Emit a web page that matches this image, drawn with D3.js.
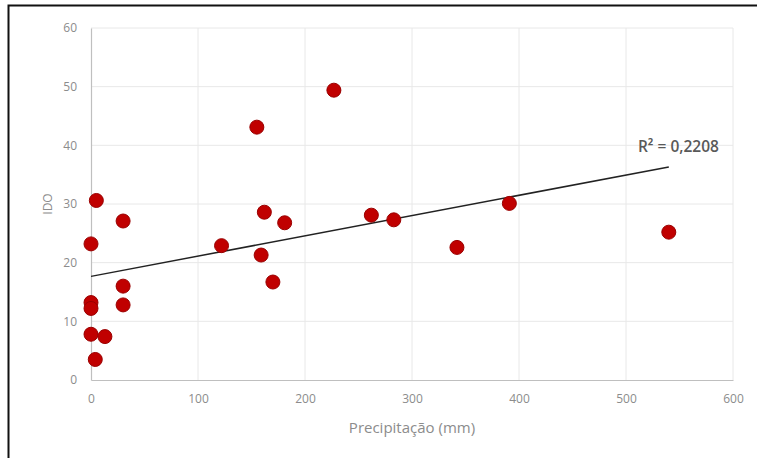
<!DOCTYPE html>
<html>
<head>
<meta charset="utf-8">
<script src="https://cdn.jsdelivr.net/npm/d3@7"></script>
<style>
  body { margin: 0; background: #fff; overflow: hidden; }
  text { font-family: "Open Sans", "Liberation Sans", sans-serif; }
</style>
</head>
<body>
<svg id="chart"></svg>
<script>
const width = 757;
const height = 458;
const margin = { top: 28, right: 24, bottom: 78, left: 91 };

// Precipitation (mm) and IDO
const precip = [0, 5, 30, 0, 0, 30, 30, 0, 13, 4, 122, 155, 159, 162, 170, 181, 227, 262, 283, 342, 391, 540];
const ido = [23.2, 30.6, 27.1, 13.2, 12.2, 16.0, 12.8, 7.8, 7.4, 3.5, 22.9, 43.1, 21.3, 28.6, 16.7, 26.8, 49.4, 28.1, 27.3, 22.6, 30.1, 25.2];
const xTicks = [0, 100, 200, 300, 400, 500, 600];
const yTicks = [0, 10, 20, 30, 40, 50, 60];
const r2Label = "R² = 0,2208";

const points = precip.map((p, i) => ({ x: p, y: ido[i] }));

const svg = d3.select("#chart").attr("width", width).attr("height", height);

// outer frame (left and top edges visible in the picture)
svg.append("rect")
    .attr("x", 8.5)
    .attr("y", 5.5)
    .attr("width", 760)
    .attr("height", 470)
    .attr("fill", "none")
    .attr("stroke", "#111")
    .attr("stroke-width", 2);

const x = d3.scaleLinear().domain([0, 600]).range([margin.left, width - margin.right]);
const y = d3.scaleLinear().domain([0, 60]).range([height - margin.bottom, margin.top]);

// gridlines
svg.append("g")
    .selectAll("line")
    .data(yTicks.filter(d => d > 0))
    .enter().append("line")
    .attr("x1", x(0))
    .attr("x2", x(600))
    .attr("y1", d => y(d))
    .attr("y2", d => y(d))
    .attr("stroke", "#e8e8e8");

svg.append("g")
    .selectAll("line")
    .data(xTicks.filter(d => d > 0))
    .enter().append("line")
    .attr("x1", d => x(d))
    .attr("x2", d => x(d))
    .attr("y1", y(0))
    .attr("y2", y(60))
    .attr("stroke", "#e8e8e8");

// axes
const xAxis = svg.append("g")
    .attr("transform", `translate(0,${y(0)})`)
    .call(d3.axisBottom(x).tickValues(xTicks).tickSize(0).tickPadding(14));
const yAxis = svg.append("g")
    .attr("transform", `translate(${x(0)},0)`)
    .call(d3.axisLeft(y).tickValues(yTicks).tickSize(0).tickPadding(14));

[xAxis, yAxis].forEach(a => {
    a.select(".domain").attr("stroke", "#bfbfbf").attr("stroke-width", 1.2);
    a.selectAll("text").attr("fill", "#8c8c8c").style("font-size", "12px");
});

// trendline (least squares over the points)
const mx = d3.mean(points, d => d.x);
const my = d3.mean(points, d => d.y);
const slope = d3.sum(points, d => (d.x - mx) * (d.y - my)) / d3.sum(points, d => (d.x - mx) ** 2);
const intercept = my - slope * mx;
const xExt = d3.extent(points, d => d.x);

svg.append("line")
    .attr("x1", x(xExt[0]))
    .attr("y1", y(intercept + slope * xExt[0]))
    .attr("x2", x(xExt[1]))
    .attr("y2", y(intercept + slope * xExt[1]))
    .attr("stroke", "#222")
    .attr("stroke-width", 1.5);

// points
svg.append("g")
    .selectAll("circle")
    .data(points)
    .enter().append("circle")
    .attr("cx", d => x(d.x))
    .attr("cy", d => y(d.y))
    .attr("r", 7)
    .attr("fill", "#c00000")
    .attr("stroke", "#9a0000")
    .attr("stroke-width", 1);

// R² label
svg.append("text")
    .attr("x", x(549))
    .attr("y", y(39.8))
    .attr("dy", "0.35em")
    .attr("text-anchor", "middle")
    .attr("fill", "#595959")
    .style("font-size", "15.5px")
    .style("font-weight", "600")
    .text(r2Label);

// axis titles
svg.append("text")
    .attr("x", (x(0) + x(600)) / 2)
    .attr("y", 433)
    .attr("text-anchor", "middle")
    .attr("fill", "#8c8c8c")
    .style("font-size", "15px")
    .text("Precipitação (mm)");

svg.append("text")
    .attr("transform", `translate(48,${y(30)}) rotate(-90)`)
    .attr("text-anchor", "middle")
    .attr("dy", "0.35em")
    .attr("fill", "#8c8c8c")
    .style("font-size", "12px")
    .text("IDO");
</script>
</body>
</html>
